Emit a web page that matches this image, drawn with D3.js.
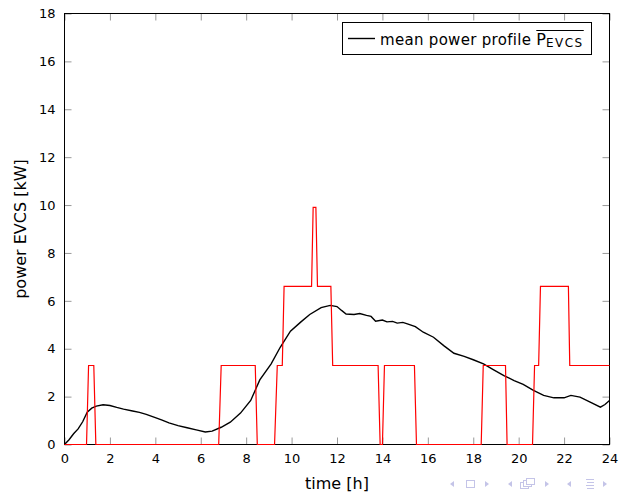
<!DOCTYPE html>
<html>
<head>
<meta charset="utf-8">
<script src="https://cdn.jsdelivr.net/npm/d3@7"></script>
<style>
  body { margin: 0; background: #fff; }
  svg { display: block; font-family: "DejaVu Sans", sans-serif; }
  .axis text { font-size: 13px; fill: #000; }
  .axis line { stroke: #999; }
  .label { font-size: 16px; fill: #000; }
</style>
</head>
<body>
<svg width="620" height="493"></svg>
<script>
// x ticks (hours) and y ticks (kW)
var xTicks = [0, 2, 4, 6, 8, 10, 12, 14, 16, 18, 20, 22, 24];
var yTicks = [0, 2, 4, 6, 8, 10, 12, 14, 16, 18];

// mean power profile (black)
var meanTime = [0, 0.2, 0.4, 0.6, 0.8, 1.0, 1.2, 1.4, 1.7, 2.0, 2.3, 2.6, 3.0, 3.3, 3.6,
  4.0, 4.3, 4.6, 5.0, 5.4, 5.8, 6.2, 6.5, 6.9, 7.3, 7.75, 8.2, 8.6, 9.1, 9.5, 9.95,
  10.4, 10.8, 11.3, 11.7, 12.0, 12.2, 12.4, 12.75, 13.0, 13.3, 13.5, 13.7, 14.0, 14.2,
  14.45, 14.65, 14.9, 15.1, 15.45, 15.8, 16.25, 16.7, 17.15, 17.6, 18.0, 18.45, 18.9,
  19.35, 19.8, 20.2, 20.65, 21.1, 21.55, 22.0, 22.3, 22.7, 23.15, 23.6, 23.8, 24.0];
var meanPower = [0, 0.2, 0.45, 0.65, 0.95, 1.35, 1.52, 1.6, 1.66, 1.63, 1.55, 1.48, 1.4, 1.34, 1.26,
  1.12, 1.02, 0.9, 0.79, 0.7, 0.61, 0.52, 0.56, 0.72, 0.93, 1.31, 1.84, 2.7, 3.37, 4.06, 4.73,
  5.11, 5.43, 5.72, 5.81, 5.76, 5.6, 5.45, 5.43, 5.47, 5.39, 5.35, 5.15, 5.2, 5.12,
  5.14, 5.07, 5.1, 5.04, 4.92, 4.69, 4.48, 4.13, 3.81, 3.68, 3.54, 3.37, 3.12,
  2.88, 2.67, 2.51, 2.26, 2.05, 1.95, 1.95, 2.05, 1.98, 1.77, 1.56, 1.67, 1.84];

// single EVCS power (red steps)
var evcsTime = [0, 0.97, 1.06, 1.29, 1.38, 6.79, 6.9, 8.4, 8.49, 9.25, 9.37, 9.59, 9.67,
  10.88, 10.95, 11.07, 11.14, 11.73, 11.81, 13.81, 13.9, 14.0, 14.09, 15.41, 15.5,
  18.35, 18.44, 19.42, 19.49, 20.61, 20.7, 20.88, 20.96, 22.19, 22.25, 24];
var evcsPower = [0, 0, 3.3, 3.3, 0, 0, 3.3, 3.3, 0, 0, 3.3, 3.3, 6.6,
  6.6, 9.9, 9.9, 6.6, 6.6, 3.3, 3.3, 0, 0, 3.3, 3.3, 0,
  0, 3.3, 3.3, 0, 0, 3.3, 3.3, 6.6, 6.6, 3.3, 3.3];

var pArea = [64.5, 13.5, 609.5, 444.5];
var tick = 7;

var xScale = d3.scaleLinear().domain([0, 24]).range([pArea[0], pArea[2]]);
var yScale = d3.scaleLinear().domain([0, 18]).range([pArea[3], pArea[1]]);

var svg = d3.select("svg");
var g = svg.append("g");

// axes, ticks pointing inwards on all four sides
g.append("g")
  .attr("class", "axis")
  .attr("transform", `translate(0,${pArea[3]})`)
  .call(d3.axisBottom(xScale).tickValues(xTicks).tickSize(-tick).tickPadding(9).tickFormat(d3.format("d")));
g.append("g")
  .attr("class", "axis")
  .attr("transform", `translate(0,${pArea[1]})`)
  .call(d3.axisTop(xScale).tickValues(xTicks).tickSize(-tick).tickFormat(""));
g.append("g")
  .attr("class", "axis")
  .attr("transform", `translate(${pArea[0]},0)`)
  .call(d3.axisLeft(yScale).tickValues(yTicks).tickSize(-tick).tickPadding(9).tickFormat(d3.format("d")));
g.append("g")
  .attr("class", "axis")
  .attr("transform", `translate(${pArea[2]},0)`)
  .call(d3.axisRight(yScale).tickValues(yTicks).tickSize(-tick).tickFormat(""));
g.selectAll(".axis .domain").remove();
g.selectAll(".axis text").attr("font-family", "DejaVu Sans");

// frame
g.append("rect")
  .attr("x", pArea[0]).attr("y", pArea[1])
  .attr("width", pArea[2] - pArea[0]).attr("height", pArea[3] - pArea[1])
  .attr("fill", "none").attr("stroke", "#000").attr("stroke-width", 1);

// labels
g.append("text")
  .attr("class", "label")
  .attr("x", (pArea[0] + pArea[2]) / 2)
  .attr("y", 489)
  .attr("text-anchor", "middle")
  .text("time [h]");
g.append("text")
  .attr("class", "label")
  .attr("transform", "rotate(-90)")
  .attr("x", -(pArea[1] + pArea[3]) / 2)
  .attr("y", 26)
  .attr("text-anchor", "middle")
  .text("power EVCS [kW]");

var line = d3.line().x(d => xScale(d[0])).y(d => yScale(d[1]));

svg.append("path")
  .datum(meanTime.map((t, i) => [t, meanPower[i]]))
  .attr("d", line)
  .attr("fill", "none")
  .attr("stroke", "#000")
  .attr("stroke-width", 1.4);

svg.append("path")
  .datum(evcsTime.map((t, i) => [t, evcsPower[i]]))
  .attr("d", line)
  .attr("fill", "none")
  .attr("stroke", "#ff0000")
  .attr("stroke-width", 1.2);

// legend
var lg = svg.append("g");
lg.append("rect")
  .attr("x", 342.5).attr("y", 22.5).attr("width", 249).attr("height", 32)
  .attr("fill", "#fff").attr("stroke", "#000");
lg.append("line")
  .attr("x1", 348).attr("x2", 375).attr("y1", 38.5).attr("y2", 38.5)
  .attr("stroke", "#000").attr("stroke-width", 1.4);
var lt = lg.append("text")
  .attr("x", 380).attr("y", 44.5)
  .attr("font-size", 15);
lt.append("tspan").attr("letter-spacing", 0.3).text("mean power profile ");
lt.append("tspan").attr("font-size", 16).text("P");
lt.append("tspan").attr("font-size", 12).attr("letter-spacing", 1.5).attr("dy", 2).text("EVCS");
var bb = lt.node().getBBox();
var pStart = lt.node().getStartPositionOfChar(19).x;
lg.append("line")
  .attr("x1", pStart).attr("x2", bb.x + bb.width)
  .attr("y1", 30.5).attr("y2", 30.5)
  .attr("stroke", "#000").attr("stroke-width", 1);

// beamer navigation symbols
var nav = svg.append("g").attr("fill", "#c4c4e8").attr("stroke", "#c4c4e8");
function triL(x) { nav.append("path").attr("d", `M${x},484 l4,-3 v6 z`).attr("stroke", "none"); }
function triR(x) { nav.append("path").attr("d", `M${x + 4},484 l-4,-3 v6 z`).attr("stroke", "none"); }
triL(450); triR(485);
nav.append("rect").attr("x", 466.5).attr("y", 480.5).attr("width", 8).attr("height", 7).attr("fill", "none");
triL(508); triR(545);
nav.append("rect").attr("x", 520.5).attr("y", 482.5).attr("width", 8).attr("height", 6).attr("fill", "#fff");
nav.append("rect").attr("x", 523.5).attr("y", 480.5).attr("width", 8).attr("height", 6).attr("fill", "#fff");
nav.append("rect").attr("x", 526.5).attr("y", 478.5).attr("width", 8).attr("height", 6).attr("fill", "#fff");
triL(567);
[479.5, 482.5, 485.5, 488.5].forEach((y, i) => {
  nav.append("line").attr("x1", 586 + (i % 2)).attr("x2", 594).attr("y1", y).attr("y2", y);
});
triR(603);
</script>
</body>
</html>
